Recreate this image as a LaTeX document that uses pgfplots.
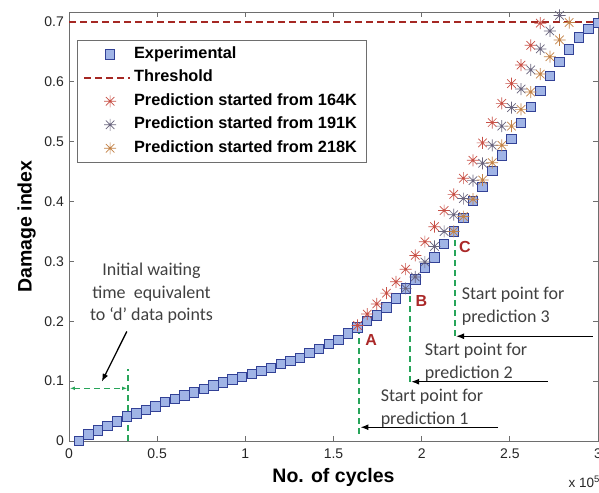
\documentclass[border=0pt]{standalone}
\usepackage{fontspec}
\setmainfont{Liberation Sans}
\newfontfamily\calib{Carlito}
\usepackage{pgfplots}
\usepackage{pgfplotstable}
\pgfplotsset{compat=1.18}
\usetikzlibrary{arrows.meta,calc}

\definecolor{sqfill}{RGB}{160,180,230}
\definecolor{sqedge}{RGB}{50,65,150}
\definecolor{thr}{RGB}{165,40,35}
\definecolor{predA}{RGB}{200,80,70}
\definecolor{predB}{RGB}{105,100,125}
\definecolor{predC}{RGB}{195,130,70}
\definecolor{grn}{RGB}{40,165,90}
\definecolor{annot}{RGB}{64,64,64}
\definecolor{lbl}{RGB}{170,40,40}
\definecolor{frame}{RGB}{110,110,110}

% 8-arm asterisk like the MATLAB '*' marker
\pgfdeclareplotmark{ast8}{%
  \pgfpathmoveto{\pgfqpoint{-\pgfplotmarksize}{0pt}}%
  \pgfpathlineto{\pgfqpoint{\pgfplotmarksize}{0pt}}%
  \pgfpathmoveto{\pgfqpoint{0pt}{-\pgfplotmarksize}}%
  \pgfpathlineto{\pgfqpoint{0pt}{\pgfplotmarksize}}%
  \pgfpathmoveto{\pgfqpoint{-0.707\pgfplotmarksize}{-0.707\pgfplotmarksize}}%
  \pgfpathlineto{\pgfqpoint{0.707\pgfplotmarksize}{0.707\pgfplotmarksize}}%
  \pgfpathmoveto{\pgfqpoint{-0.707\pgfplotmarksize}{0.707\pgfplotmarksize}}%
  \pgfpathlineto{\pgfqpoint{0.707\pgfplotmarksize}{-0.707\pgfplotmarksize}}%
  \pgfusepathqstroke}

% x in units of 1e5 cycles
\pgfplotstableread{
x y
0.0545 0.000
0.1091 0.011
0.1636 0.018
0.2182 0.025
0.2727 0.033
0.3273 0.041
0.3818 0.046
0.4364 0.052
0.4909 0.058
0.5455 0.065
0.6000 0.070
0.6545 0.076
0.7091 0.081
0.7636 0.087
0.8182 0.093
0.8727 0.098
0.9273 0.103
0.9818 0.107
1.0364 0.112
1.0909 0.117
1.1455 0.122
1.2000 0.129
1.2545 0.134
1.3091 0.139
1.3636 0.147
1.4182 0.154
1.4727 0.162
1.5273 0.169
1.5818 0.180
1.6364 0.190
1.6909 0.201
1.7455 0.210
1.8000 0.223
1.8545 0.238
1.9091 0.255
1.9636 0.270
2.0182 0.289
2.0727 0.307
2.1273 0.329
2.1818 0.350
2.2364 0.373
2.2909 0.401
2.3455 0.424
2.4000 0.451
2.4545 0.477
2.5091 0.505
2.5636 0.531
2.6182 0.558
2.6727 0.585
2.7273 0.610
2.7818 0.633
2.8364 0.654
2.8909 0.674
2.9455 0.688
3.0000 0.698
}\exper

\pgfplotstableread{
x y
1.6364 0.193
1.6909 0.212
1.7455 0.229
1.8000 0.247
1.8545 0.266
1.9091 0.287
1.9636 0.310
2.0182 0.333
2.0727 0.358
2.1273 0.385
2.1818 0.412
2.2364 0.439
2.2909 0.469
2.3455 0.498
2.4000 0.532
2.4545 0.564
2.5091 0.597
2.5636 0.628
2.6182 0.661
2.6727 0.698
}\predA

\pgfplotstableread{
x y
1.9091 0.255
1.9636 0.274
2.0182 0.299
2.0727 0.325
2.1273 0.350
2.1818 0.378
2.2364 0.405
2.2909 0.435
2.3455 0.464
2.4000 0.494
2.4545 0.526
2.5091 0.557
2.5636 0.588
2.6182 0.620
2.6727 0.655
2.7273 0.685
2.7818 0.711
}\predB

\pgfplotstableread{
x y
2.1818 0.350
2.2364 0.375
2.2909 0.404
2.3455 0.436
2.4000 0.465
2.4545 0.494
2.5091 0.526
2.5636 0.554
2.6182 0.583
2.6727 0.613
2.7273 0.642
2.7818 0.670
2.8364 0.699
2.8909 0.718
}\predC

\begin{document}
\begin{tikzpicture}
\begin{axis}[
    scale only axis,
    width=529pt, height=429pt,
    xmin=0, xmax=3, ymin=0, ymax=0.7167,
    xtick={0,0.5,1,1.5,2,2.5,3},
    ytick={0,0.1,0.2,0.3,0.4,0.5,0.6,0.7},
    /pgf/number format/assume math mode=true,
    tick align=inside,
    major tick length=5pt,
    axis line style={frame, line width=0.8pt},
    tick style={frame, line width=0.8pt},
    xticklabel style={font=\fontsize{14}{16}\selectfont, text=black!85, inner sep=2pt, yshift=-6pt},
    yticklabel style={font=\fontsize{14}{16}\selectfont, text=black!85, inner sep=2pt, xshift=-3pt},
    xlabel={No. of cycles},
    ylabel={Damage index},
    xlabel style={font=\fontsize{19.5}{22}\selectfont\bfseries, yshift=-4pt},
    ylabel style={font=\fontsize{19.5}{22}\selectfont\bfseries, yshift=3pt},
    legend image code/.code={\draw[mark repeat=2,mark phase=2,#1] plot coordinates {(0pt,0pt) (26pt,0pt) (46pt,0pt)};},
    legend cell align=left,
    legend style={at={(rel axis cs:0.0146,0.935)}, anchor=north west,
        draw=frame, line width=0.8pt,
        font=\fontsize{16.3}{18}\selectfont\bfseries,
        row sep=7.5pt, inner xsep=6pt, inner ysep=6pt,
        nodes={inner xsep=3pt, inner ysep=0pt, text height=12pt, text depth=4pt}},
]
\coordinate (sw) at (rel axis cs:0,0);
\coordinate (ne) at (rel axis cs:1,1);

\addplot[thr, line width=2pt, dash pattern=on 7pt off 4pt, forget plot]
    coordinates {(0,0.7) (3,0.7)};

\addplot[only marks, mark=square*, mark size=4.7pt,
    mark options={fill=sqfill, draw=sqedge, line width=0.8pt}] table {\exper};
\addlegendentry{Experimental}
\addlegendimage{thr, line width=2pt, dash pattern=on 7pt off 4pt}
\addlegendentry{Threshold}
\addplot[only marks, mark=ast8, mark size=6pt, predA, line width=0.7pt] table {\predA};
\addlegendentry{Prediction started from 164K}
\addplot[only marks, mark=ast8, mark size=6pt, predB, line width=0.7pt] table {\predB};
\addlegendentry{Prediction started from 191K}
\addplot[only marks, mark=ast8, mark size=6pt, predC, line width=0.7pt] table {\predC};
\addlegendentry{Prediction started from 218K}

% initial waiting time
\draw[grn, line width=1.6pt, dash pattern=on 6pt off 4pt] (axis cs:0.333,0) -- (axis cs:0.333,0.12);
\draw[grn, line width=1.5pt, dash pattern=on 6pt off 4pt, {Latex[length=5pt]}-{Latex[length=5pt]}]
    (axis cs:0.005,0.088) -- (axis cs:0.330,0.088);
\draw[black, line width=1.3pt, -{Latex[length=8pt,width=6pt]}] (axis cs:0.328,0.183) -- (axis cs:0.186,0.099);
\begin{scope}[every node/.style={font=\calib\fontsize{18}{22}\selectfont, text=annot, anchor=base, inner sep=0pt}]
\node at (axis cs:0.468,0.277) {Initial waiting};
\node at (axis cs:0.468,0.238) {time\ \ equivalent};
\node at (axis cs:0.468,0.202) {to ‘d’ data points};
\end{scope}

% start points
\draw[grn, line width=1.5pt, dash pattern=on 6pt off 4pt] (axis cs:1.645,0.012) -- (axis cs:1.645,0.190);
\draw[grn, line width=1.5pt, dash pattern=on 6pt off 4pt] (axis cs:1.934,0.099) -- (axis cs:1.934,0.255);
\draw[grn, line width=1.5pt, dash pattern=on 6pt off 4pt] (axis cs:2.190,0.175) -- (axis cs:2.190,0.350);

\draw[black, line width=1.3pt, -{Latex[length=8pt,width=6pt]}] (axis cs:2.97,0.175) -- (axis cs:2.195,0.175);
\draw[black, line width=1.3pt, -{Latex[length=8pt,width=6pt]}] (axis cs:2.714,0.099) -- (axis cs:1.940,0.099);
\draw[black, line width=1.3pt, -{Latex[length=8pt,width=6pt]}] (axis cs:2.434,0.023) -- (axis cs:1.653,0.023);

\begin{scope}[every node/.style={font=\calib\fontsize{18}{22}\selectfont, text=annot, anchor=base west, inner sep=0pt}]
\node at (axis cs:2.227,0.237) {Start point for};
\node at (axis cs:2.227,0.198) {prediction 3};
\node at (axis cs:2.017,0.142) {Start point for};
\node at (axis cs:2.017,0.104) {prediction 2};
\node at (axis cs:1.767,0.066) {Start point for};
\node at (axis cs:1.767,0.028) {prediction 1};
\end{scope}

\begin{scope}[every node/.style={font=\fontsize{16}{18}\selectfont\bfseries, text=lbl, anchor=base, inner sep=0pt}]
\node at (axis cs:1.714,0.160) {A};
\node at (axis cs:1.998,0.2255) {B};
\node at (axis cs:2.245,0.315) {C};
\end{scope}
\end{axis}
\node[anchor=base east, inner sep=0pt, font=\fontsize{13.5}{15}\selectfont, text=black!85]
    at ($(sw -| ne)+(2pt,-47pt)$) {x 10\textsuperscript{5}};
\pgfresetboundingbox
\path[use as bounding box] ($(sw)+(-69pt,-52pt)$) rectangle ($(ne)+(1pt,12pt)$);
\end{tikzpicture}
\end{document}
